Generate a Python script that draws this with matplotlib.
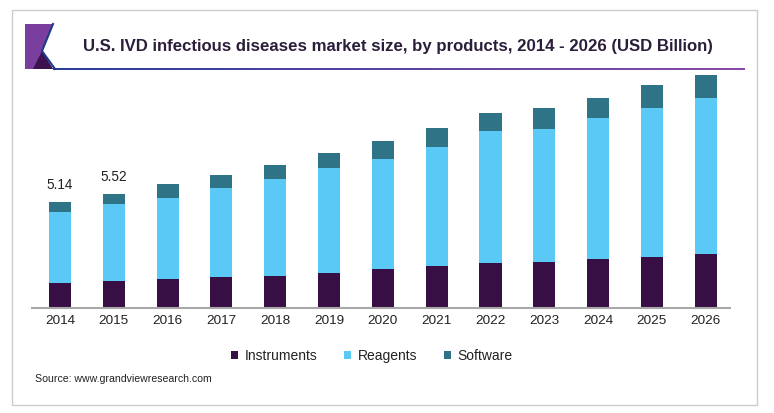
import matplotlib
matplotlib.use("Agg")
import matplotlib.pyplot as plt
import numpy as np
from matplotlib.patches import Polygon, Rectangle
from matplotlib.colors import LinearSegmentedColormap

years = ["2014", "2015", "2016", "2017", "2018", "2019", "2020",
         "2021", "2022", "2023", "2024", "2025", "2026"]
instruments = [1.21, 1.30, 1.40, 1.52, 1.57, 1.70, 1.89, 2.03, 2.20, 2.22, 2.36, 2.49, 2.60]
reagents = [3.45, 3.74, 3.93, 4.27, 4.65, 5.05, 5.32, 5.76, 6.33, 6.42, 6.80, 7.15, 7.55]
software = [0.48, 0.48, 0.65, 0.64, 0.69, 0.72, 0.86, 0.92, 0.87, 1.00, 0.99, 1.11, 1.11]
labels = {0: "5.14", 1: "5.52"}
series_names = ["Instruments", "Reagents", "Software"]
colors = ["#380f45", "#5bc9f5", "#2e7386"]

plt.rcParams['font.family'] = ['Liberation Sans', 'DejaVu Sans']

W, H = 774, 413
fig = plt.figure(figsize=(W / 100, H / 100), dpi=100)

def fx(px):
    return px / W

def fy(py):
    return 1 - py / H

# outer border
fig.patches.append(Rectangle((fx(12), fy(405)), fx(757) - fx(12), fy(10) - fy(405),
                             transform=fig.transFigure, fill=False,
                             edgecolor="#cccccc", linewidth=1.0))

# logo
logo_main = Polygon([(fx(25), fy(24)), (fx(53), fy(24)), (fx(42), fy(51)),
                     (fx(53), fy(69)), (fx(25), fy(69))],
                    closed=True, transform=fig.transFigure,
                    facecolor="#7a3f9e", edgecolor="none")
fig.patches.append(logo_main)
logo_dark = Polygon([(fx(33), fy(69)), (fx(42), fy(51)), (fx(53), fy(69))],
                    closed=True, transform=fig.transFigure,
                    facecolor="#3d1250", edgecolor="none")
fig.patches.append(logo_dark)
logo_edge = plt.Line2D([fx(53), fx(42), fx(55)], [fy(24), fy(51), fy(69)],
                       transform=fig.transFigure, color="#1e3a8a", linewidth=1.5)
fig.lines.append(logo_edge)

# gradient title underline
cmap = LinearSegmentedColormap.from_list("ul", ["#2a3f9a", "#8a4aa8"])
lax = fig.add_axes([fx(53), fy(70), fx(745) - fx(53), fy(67.5) - fy(70)])
lax.imshow(np.linspace(0, 1, 256)[None, :], aspect="auto", cmap=cmap)
lax.axis("off")

fig.text(fx(83), fy(47), "U.S. IVD infectious diseases market size, by products, 2014 - 2026 (USD Billion)",
         fontsize=12.1, fontweight="bold", color="#2b1e3a", va="center", ha="left")

# main axes
scale = 20.74  # px per unit
ymax = 12.0
ax_left, ax_right, base = 32, 730, 308.3
ax = fig.add_axes([fx(ax_left), fy(base), fx(ax_right) - fx(ax_left), ymax * scale / H])

x = np.arange(len(years))
bw = 0.41
ax.bar(x, instruments, bw, color=colors[0], label=series_names[0])
ax.bar(x, reagents, bw, bottom=instruments, color=colors[1], label=series_names[1])
bottom2 = np.array(instruments) + np.array(reagents)
ax.bar(x, software, bw, bottom=bottom2, color=colors[2], label=series_names[2])
totals = bottom2 + np.array(software)
for i, t in labels.items():
    ax.text(x[i], totals[i] + 0.45, t, ha="center", va="bottom", fontsize=9.8, color="#222222")

ax.set_xlim(-0.52, 12.45)
ax.set_ylim(0, ymax)
ax.set_xticks(x)
ax.set_xticklabels(years, fontsize=9.7, color="#222222")
ax.tick_params(axis="x", length=0, pad=5)
ax.set_yticks([])
for s in ["top", "right", "left"]:
    ax.spines[s].set_visible(False)
ax.spines["bottom"].set_color("#a8a8a8")
ax.spines["bottom"].set_linewidth(1.5)
ax.patch.set_alpha(0)

leg = fig.legend(loc="center", bbox_to_anchor=(fx(372), fy(356)), ncol=3, frameon=False,
                 fontsize=10, handlelength=0.5, handleheight=0.5, handletextpad=0.5,
                 columnspacing=1.9)
for t in leg.get_texts():
    t.set_color("#222222")

fig.text(fx(35), fy(379), "Source: www.grandviewresearch.com", fontsize=7.6,
         color="#222222", va="center", ha="left")

fig.savefig("out.png", dpi=100)
